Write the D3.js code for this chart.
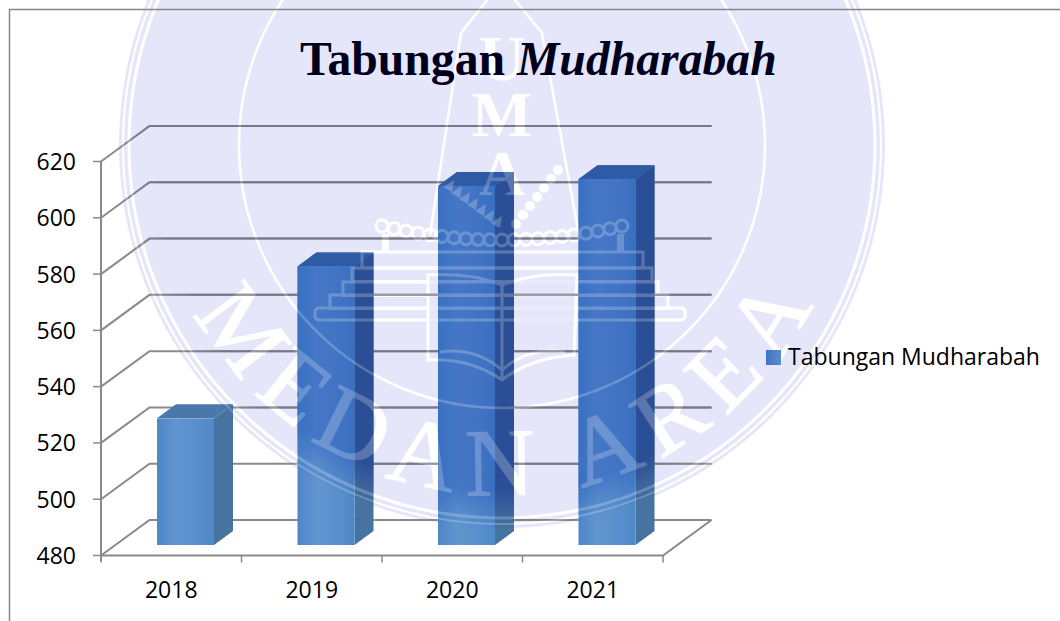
<!DOCTYPE html>
<html><head><meta charset="utf-8">
<script src="https://cdn.jsdelivr.net/npm/d3@7"></script>
<style>html,body{margin:0;padding:0;background:#fff;overflow:hidden}svg{display:block}</style>
</head><body><svg id="c" width="1060" height="621"></svg>
<script>
const categories = ["2018","2019","2020","2021"];
const seriesName = "Tabungan Mudharabah";
const values = [525, 579, 607.6, 610];
const valueTicks = [480,500,520,540,560,580,600,620];

const svg = d3.select("#c");
const defs = svg.append("defs");

// layout
const x = d3.scaleLinear().domain([0,4]).range([101,663]);
const y = d3.scaleLinear().domain([480,620]).range([555.5,161.5]);
const wall = {dx:48.5, dy:-35.5};
const bar = {inset:56, w:57, dx:19, dy:-14, floorDy:-10.5};
const cx=502, cy=145, R=383;

function grad(id, stops){
  const g = defs.append("linearGradient").attr("id",id).attr("x1",0).attr("x2",1).attr("y1",0).attr("y2",0);
  stops.forEach((c,i)=>g.append("stop").attr("offset",i/(stops.length-1)).attr("stop-color",c));
}
grad("fOut",["#4f86c8","#6195cf","#5a90cc","#4f88c8"]);
grad("fIn",["#3a70c2","#4577c6","#4274c4","#3a6fc0"]);
grad("lg",["#3f74c4","#5a8dcc"]);
const rg=defs.append("radialGradient").attr("id","soft").attr("gradientUnits","userSpaceOnUse").attr("cx",cx).attr("cy",cy).attr("r",R);
rg.append("stop").attr("offset",0.9).attr("stop-color","#fff");
rg.append("stop").attr("offset",1).attr("stop-color","#000");
defs.append("mask").attr("id","disc").attr("maskUnits","userSpaceOnUse").attr("x",0).attr("y",0).attr("width",1060).attr("height",621)
  .append("rect").attr("width",1060).attr("height",621).attr("fill","url(#soft)");

// watermark
function watermark(g,id){
  const W="#fff";
  [[373,3],[379,2],[263,2.5]].forEach(([r,sw])=>g.append("circle").attr("cx",cx).attr("cy",cy).attr("r",r).attr("fill","none").attr("stroke",W).attr("stroke-width",sw));
  g.append("path").attr("id",id).attr("fill","none")
    .attr("d",`M${cx-350},${cy} A350,350 0 0 0 ${cx+350},${cy}`);
  g.append("text").attr("font-family","Liberation Serif").attr("font-size",96).attr("fill",W).attr("stroke",W).attr("stroke-width",1.2).attr("letter-spacing",14)
    .append("textPath").attr("href","#"+id).attr("startOffset","51%").attr("text-anchor","middle").text("MEDAN AREA");
  [["U",80],["M",136],["A",195]].forEach(([t,yy])=>g.append("text").attr("x",cx).attr("y",yy).attr("text-anchor","middle")
    .attr("font-family","Liberation Serif").attr("font-weight","bold").attr("font-size",64).attr("fill",W).text(t));
  // shield
  g.append("path").attr("fill","none").attr("stroke",W).attr("stroke-width",2.5)
    .attr("d","M430,235 L461,33 L487,0 M515,0 L542,33 L579,235");
  // beads
  d3.range(382,628,12).forEach(px=>{
    const t=(px-502)/120, py=240-14*t*t;
    g.append("circle").attr("cx",px).attr("cy",py).attr("r",6).attr("fill","none").attr("stroke",W).attr("stroke-width",3);
  });
  d3.range(0,7).forEach(i=>g.append("circle").attr("cx",516+i*7).attr("cy",224-i*9).attr("r",5).attr("fill",W));
  d3.range(0,7).forEach(i=>g.append("path").attr("d",`M${443+i*8},${187+i*6} l11,-7 l-2,12 z`).attr("fill",W));
  [385,620].forEach(px=>g.append("rect").attr("x",px-3).attr("y",234).attr("width",7).attr("height",18).attr("fill",W));
  // steps
  [[315,685,308],[330,668,295],[343,658,282],[352,652,268],[362,643,252]].forEach(([a,b,t],i)=>{
    g.append("rect").attr("x",a).attr("y",t).attr("width",b-a).attr("height",i?(i==4?16:13.5):12).attr("rx",i?0:4)
      .attr("fill","none").attr("stroke",W).attr("stroke-width",3);
  });
  // book
  g.append("path").attr("class","book").attr("fill","#e6e6fa").attr("stroke",W).attr("stroke-width",3)
    .attr("d","M428,275 Q470,272 502,285 Q535,272 577,275 L574,355 Q530,358 502,380 Q470,358 428,360 Z");
  g.append("path").attr("fill","none").attr("stroke",W).attr("stroke-width",3)
    .attr("d","M502,285 L502,380 M440,352 Q475,347 502,370 Q528,347 565,352");
}

// lavender disc and its white lines sit behind the chart
svg.append("circle").attr("cx",cx).attr("cy",cy).attr("r",R).attr("fill","#e6e6fa");
watermark(svg.append("g"),"arcBack");

const paletteOut = {grid:"#8a8a8a", front:"url(#fOut)", side:"#46739f", top:"#4a78ab"};
const paletteIn  = {grid:"#77778a", front:"url(#fIn)",  side:"#2b4f96", top:"#2f5aa5"};

function plot(g,p){
  valueTicks.forEach(v=>{
    g.append("path").attr("fill","none").attr("stroke",p.grid).attr("stroke-width",2)
      .attr("d",`M${x(0)},${y(v)} L${x(0)+wall.dx},${y(v)+wall.dy} L${x(4)+wall.dx},${y(v)+wall.dy}`);
  });
  g.append("path").attr("fill","none").attr("stroke",p.grid).attr("stroke-width",2)
    .attr("d",`M${x(0)},${y(480)} L${x(4)},${y(480)} L${x(4)+wall.dx},${y(480)+wall.dy}`);
  g.append("line").attr("x1",x(0)).attr("x2",x(0)).attr("y1",y(620)).attr("y2",y(480)+6).attr("stroke",p.grid).attr("stroke-width",2);
  valueTicks.forEach(v=>g.append("line").attr("x1",x(0)-8).attr("x2",x(0)).attr("y1",y(v)).attr("y2",y(v)).attr("stroke",p.grid).attr("stroke-width",1.5));
  d3.range(0,5).forEach(i=>g.append("line").attr("x1",x(i)).attr("x2",x(i)).attr("y1",y(480)).attr("y2",y(480)+7).attr("stroke",p.grid).attr("stroke-width",1.5));
  values.forEach((v,i)=>{
    const L=x(i)+bar.inset, Rt=L+bar.w, B=y(480)+bar.floorDy, T=B-(y(480)-y(v));
    const b=g.append("g");
    b.append("path").attr("fill",p.side).attr("d",`M${Rt},${T} L${Rt+bar.dx},${T+bar.dy} L${Rt+bar.dx},${B+bar.dy} L${Rt},${B} Z`);
    b.append("path").attr("fill",p.top).attr("d",`M${L},${T} L${L+bar.dx},${T+bar.dy} L${Rt+bar.dx},${T+bar.dy} L${Rt},${T} Z`);
    b.append("rect").attr("x",L).attr("y",T).attr("width",bar.w).attr("height",B-T).attr("fill",p.front);
  });
}
plot(svg.append("g"),paletteOut);
plot(svg.append("g").attr("mask","url(#disc)"),paletteIn);

// watermark tint over the bars
const wmFront = svg.append("g").attr("opacity",0.22); watermark(wmFront,"arcFront");
wmFront.selectAll(".book").attr("fill","none");

// frame
svg.append("path").attr("fill","none").attr("stroke","#868686").attr("stroke-width",1.5).attr("d","M9.5,621 L9.5,9.5 L1060,9.5");

// value labels
const font="Open Sans";
svg.append("g").selectAll("text").data(valueTicks).join("text")
  .attr("x",76).attr("y",d=>y(d)+8.5).attr("text-anchor","end").attr("font-family",font).attr("font-size",23).attr("fill","#000").text(d=>d);
svg.append("g").selectAll("text").data(categories).join("text")
  .attr("x",(d,i)=>x(i+0.5)).attr("y",598).attr("text-anchor","middle").attr("font-family",font).attr("font-size",23).attr("fill","#000").text(d=>d);

// title
const title=svg.append("text").attr("x",300).attr("y",75).attr("font-family","Liberation Serif").attr("font-size",47.7).attr("font-weight","bold").attr("fill","#00001e");
title.append("tspan").text("Tabungan ");
title.append("tspan").attr("font-style","italic").text("Mudharabah");

// legend
svg.append("rect").attr("x",766).attr("y",350).attr("width",15).attr("height",15).attr("fill","url(#lg)");
svg.append("text").attr("x",788).attr("y",365).attr("font-family",font).attr("font-size",23).attr("fill","#000").text(seriesName);
</script></body></html>
